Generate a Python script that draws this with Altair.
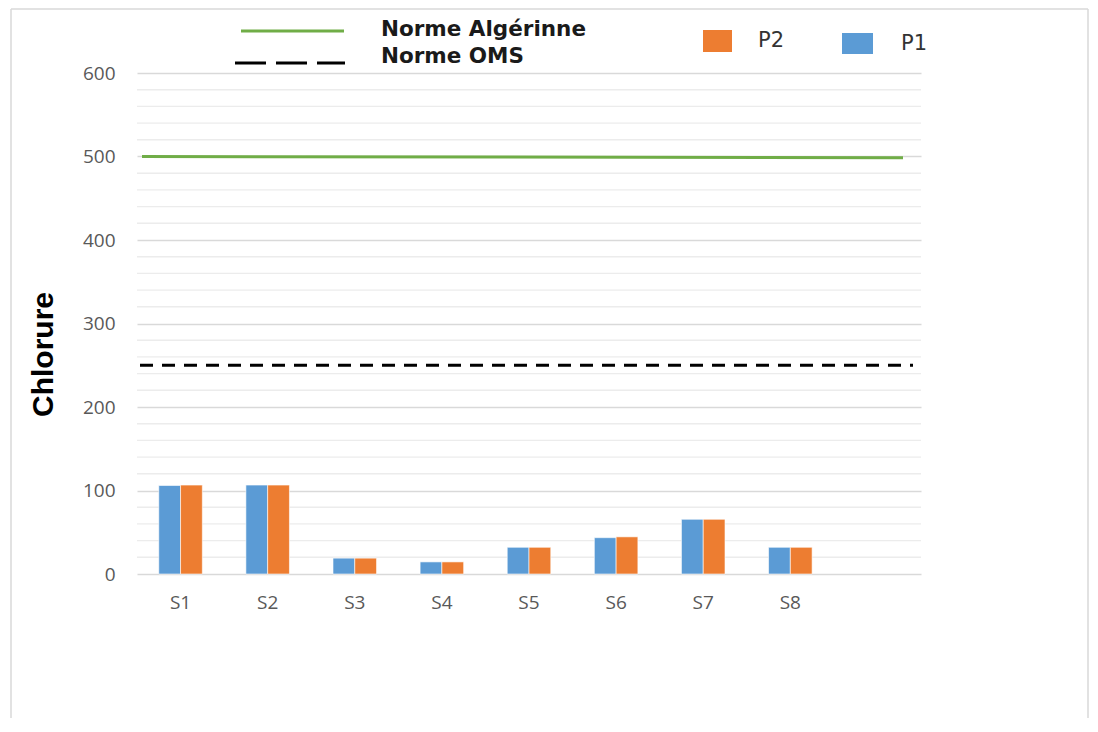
import altair as alt
import pandas as pd

# ---- data ----
sites = ["S1", "S2", "S3", "S4", "S5", "S6", "S7", "S8"]
p1 = [106, 106.5, 19, 14.5, 32, 43.5, 65.5, 32]
p2 = [106.5, 106.5, 19, 14.5, 32, 44.5, 65.5, 32]
series = ["P1", "P2"]
series_colors = ["#5B9BD5", "#ED7D31"]
norme_algerienne = [500, 498.5]   # start, end (drawn line slightly sloping)
norme_oms = 250
y_major = [0, 100, 200, 300, 400, 500, 600]
y_minor = [v for v in range(20, 600, 20) if v % 100 != 0]

x_domain = sites + [""]

rows = []
for s, a, b in zip(sites, p1, p2):
    rows.append({"site": s, "serie": "P1", "val": a})
    rows.append({"site": s, "serie": "P2", "val": b})
df = pd.DataFrame(rows)

W, H = 784, 501
yscale = alt.Scale(domain=[0, 600], nice=False, zero=True)

minor = alt.Chart(pd.DataFrame({"v": y_minor})).mark_rule(
    color="#ececec", strokeWidth=1.4
).encode(y=alt.Y("v:Q", scale=yscale), x=alt.value(0), x2=alt.value(W))

bars = alt.Chart(df).mark_bar(stroke="white", strokeWidth=0.6).encode(
    x=alt.X(
        "site:N",
        scale=alt.Scale(domain=x_domain, paddingInner=0.5, paddingOuter=0.25),
        axis=alt.Axis(
            title=None, labelAngle=0, ticks=False, domain=False, grid=False,
            labelFont="Open Sans", labelFontSize=19, labelColor="#595959",
            labelPadding=19,
        ),
    ),
    xOffset=alt.XOffset("serie:N", scale=alt.Scale(domain=series, paddingInner=0)),
    y=alt.Y(
        "val:Q",
        scale=yscale,
        axis=alt.Axis(
            values=y_major, title="Chlorure", grid=True, gridColor="#d9d9d9",
            gridWidth=1.5, ticks=False, domain=False,
            labelFont="Open Sans", labelFontSize=19, labelColor="#595959",
            labelPadding=22,
            titleFont="Liberation Sans", titleFontSize=30, titleFontWeight="bold",
            titleColor="#000000", titleAngle=-90, titleX=-94, titleY=281,
            titleAlign="center", titleBaseline="middle",
        ),
    ),
    color=alt.Color("serie:N", scale=alt.Scale(domain=series, range=series_colors), legend=None),
)

green = alt.Chart(pd.DataFrame({"a": [norme_algerienne[0]], "b": [norme_algerienne[1]]})).mark_rule(
    color="#70AD47", strokeWidth=3
).encode(y=alt.Y("a:Q", scale=yscale), y2="b:Q", x=alt.value(5), x2=alt.value(766))

oms = alt.Chart(pd.DataFrame({"v": [norme_oms]})).mark_rule(
    color="#000000", strokeWidth=3, strokeDash=[13, 9]
).encode(y=alt.Y("v:Q", scale=yscale), x=alt.value(3), x2=alt.value(776))

# ---- custom legend ----
leg_green = alt.Chart(pd.DataFrame({"k": [0]})).mark_rule(color="#70AD47", strokeWidth=3).encode(
    x=alt.value(104), x2=alt.value(207), y=alt.value(-42), y2=alt.value(-42))
leg_oms = alt.Chart(pd.DataFrame({"k": [0]})).mark_rule(color="#000000", strokeWidth=3, strokeDash=[31, 10]).encode(
    x=alt.value(98), x2=alt.value(208), y=alt.value(-10), y2=alt.value(-10))

leg_text = alt.Chart(pd.DataFrame({"t": ["Norme Algérinne", "Norme OMS"], "yy": [-43, -16]})).mark_text(
    font="DejaVu Sans", fontSize=21.5, fontWeight="bold", color="#1a1a1a", align="left", baseline="middle"
).encode(text="t:N", x=alt.value(244), y=alt.Y("yy:Q", scale=None))

sq = pd.DataFrame({"serie": ["P2", "P1"], "x1": [566, 705], "x2": [595, 736], "y1": [-43, -40], "y2": [-21, -19]})
leg_sq = alt.Chart(sq).mark_rect().encode(
    x=alt.X("x1:Q", scale=None), x2="x2:Q", y=alt.Y("y1:Q", scale=None), y2="y2:Q",
    color=alt.Color("serie:N", scale=alt.Scale(domain=series, range=series_colors), legend=None),
)
leg_p = alt.Chart(pd.DataFrame({"t": ["P2", "P1"], "xx": [621, 764], "yy": [-32, -29]})).mark_text(
    font="DejaVu Sans", fontSize=21, color="#333333", align="left", baseline="middle"
).encode(text="t:N", x=alt.X("xx:Q", scale=None), y=alt.Y("yy:Q", scale=None))

# ---- frame ----
frame = alt.Chart(pd.DataFrame({"x1": [-126, -126, 951], "x2": [951, -126, 951],
                                "y1": [-64, -64, -64], "y2": [-64, 700, 700]})).mark_rule(
    color="#d9d9d9", strokeWidth=1.5
).encode(x=alt.X("x1:Q", scale=None), x2="x2:Q", y=alt.Y("y1:Q", scale=None), y2="y2:Q")

chart = alt.layer(minor, bars, green, oms, leg_green, leg_oms, leg_text, leg_sq, leg_p, frame).resolve_scale(
    color="independent"
).properties(
    width=W, height=H,
    autosize=alt.AutoSizeParams(type="none"),
    padding={"left": 129, "top": 65, "right": 169, "bottom": 144},
).configure_view(stroke=None)

chart.save("out.html", embed_options={"renderer": "svg", "actions": False})
